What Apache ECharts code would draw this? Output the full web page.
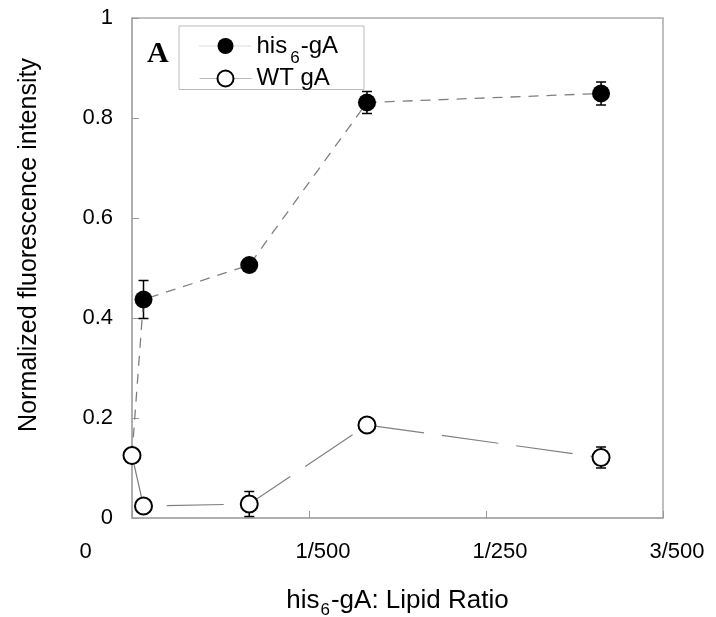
<!DOCTYPE html>
<html><head><meta charset="utf-8">
<script src="https://cdn.jsdelivr.net/npm/echarts@6/dist/echarts.min.js"></script>
<style>html,body{margin:0;padding:0;background:#fff}#c{width:716px;height:617px}</style>
</head><body><div id="c"></div>
<script>
// ---- data ----
const ratios = [0, 0.00013, 0.001325, 0.002655, 0.0053];
const his6 = [0.125, 0.437, 0.506, 0.831, 0.849];
const his6Err = [0, 0.038, 0.008, 0.022, 0.023];
const wt = [0.125, 0.024, 0.028, 0.186, 0.121];
const wtErr = [0, 0, 0.025, 0, 0.021];
const xTickLabels = ['0', '1/500', '1/250', '3/500'];
const yTickLabels = ['0', '0.2', '0.4', '0.6', '0.8', '1'];
const seriesNames = ['his6-gA', 'WT gA'];
const xTitle = 'his{sub|6}-gA: Lipid Ratio';
const yTitle = 'Normalized fluorescence intensity';
const panelLabel = 'A';

const FF = '"Liberation Sans", Arial, sans-serif';
const pts = (xs, ys) => xs.map((x, i) => [x, ys[i]]);
const errPts = (xs, ys, es) => xs.map((x, i) => [x, ys[i], es[i]]);

function errRender(params, api) {
  const x = api.value(0), y = api.value(1), e = api.value(2);
  if (!e) return {type: 'group', children: []};
  const t = api.coord([x, y + e]), b = api.coord([x, y - e]);
  const cap = 5;
  const style = {stroke: '#000', lineWidth: 1.5};
  return {type: 'group', children: [
    {type: 'line', shape: {x1: t[0], y1: t[1], x2: b[0], y2: b[1]}, style},
    {type: 'line', shape: {x1: t[0] - cap, y1: t[1], x2: t[0] + cap, y2: t[1]}, style},
    {type: 'line', shape: {x1: b[0] - cap, y1: b[1], x2: b[0] + cap, y2: b[1]}, style}
  ]};
}

const chart = echarts.init(document.getElementById('c'), null, {renderer: 'canvas'});
chart.setOption({
  animation: false,
  backgroundColor: '#fff',
  grid: {left: 132, right: 53, top: 18, bottom: 99, show: true, borderColor: '#aaa', borderWidth: 1.5, containLabel: false, outerBoundsMode: 'none'},
  xAxis: {
    type: 'value', min: 0, max: 0.006, interval: 0.002,
    name: xTitle, nameLocation: 'middle', nameGap: 70,
    nameTextStyle: {fontFamily: FF, fontSize: 26, color: '#000',
      rich: {sub: {fontFamily: FF, fontSize: 17, color: '#000', padding: [9, 1, -9, 1]}}},
    axisLine: {show: true, lineStyle: {color: '#aaa', width: 1.5}},
    axisTick: {show: true, inside: true, length: 7, lineStyle: {color: '#999', width: 1}},
    splitLine: {show: false},
    axisLabel: {
      fontFamily: FF, fontSize: 22, color: '#000', margin: 23,
      formatter: (v, i) => i === 0 ? '{z|' + xTickLabels[i] + '}' : '{s|' + xTickLabels[i] + '}',
      rich: {z: {fontFamily: FF, fontSize: 22, color: '#000', padding: [0, 93, 0, 0]},
             s: {fontFamily: FF, fontSize: 22, color: '#000', padding: [0, 0, 0, 28]}}
    }
  },
  yAxis: {
    type: 'value', min: 0, max: 1, interval: 0.2,
    name: yTitle, nameLocation: 'middle', nameGap: 90,
    nameTextStyle: {fontFamily: FF, fontSize: 25, color: '#000', padding: [0, 0, 0, 46]},
    axisLine: {show: true, lineStyle: {color: '#aaa', width: 1.5}},
    axisTick: {show: true, inside: true, length: 7, lineStyle: {color: '#999', width: 1}},
    splitLine: {show: false},
    axisLabel: {fontFamily: FF, fontSize: 22, color: '#000', margin: 19,
      formatter: (v, i) => yTickLabels[i]}
  },
  legend: {
    orient: 'vertical', left: 179, top: 26,
    padding: [7, 26, -2, 20], itemGap: -1, itemWidth: 52, itemHeight: 20,
    borderColor: '#bbb', borderWidth: 1,
    selectedMode: false,
    textStyle: {fontFamily: FF, fontSize: 24, color: '#000', lineHeight: 26,
      rich: {sub: {fontFamily: FF, fontSize: 17, color: '#000', lineHeight: 26, padding: [12, 1, -12, 3]}}},
    formatter: n => n.replace(/(\d)/, '{sub|$1}'),
    data: [
      {name: seriesNames[0], lineStyle: {type: 'dotted', color: '#bbb', width: 1}},
      {name: seriesNames[1], lineStyle: {type: 'solid', color: '#bbb', width: 1}}
    ]
  },
  graphic: [{type: 'text', left: 147, top: 39, style: {text: panelLabel, font: 'bold 30px "Liberation Serif", serif', fill: '#000'}}],
  series: [
    {type: 'custom', name: 'his6err', renderItem: errRender, data: errPts(ratios, his6, his6Err), z: 1, silent: true},
    {type: 'custom', name: 'wterr', renderItem: errRender, data: errPts(ratios, wt, wtErr), z: 1, silent: true},
    {type: 'line', name: seriesNames[0], data: pts(ratios, his6), z: 2,
      symbol: 'circle', symbolSize: 18,
      itemStyle: {color: '#000', borderColor: '#000', borderWidth: 0},
      lineStyle: {color: '#808080', width: 1.3, type: [10, 8]},
      emphasis: {disabled: true}},
    {type: 'line', name: seriesNames[1], data: pts(ratios, wt), z: 3,
      symbol: 'circle', symbolSize: 17,
      itemStyle: {color: '#fff', borderColor: '#000', borderWidth: 2},
      lineStyle: {color: '#808080', width: 1.2, type: [57, 18]},
      emphasis: {disabled: true}}
  ]
});
</script></body></html>
